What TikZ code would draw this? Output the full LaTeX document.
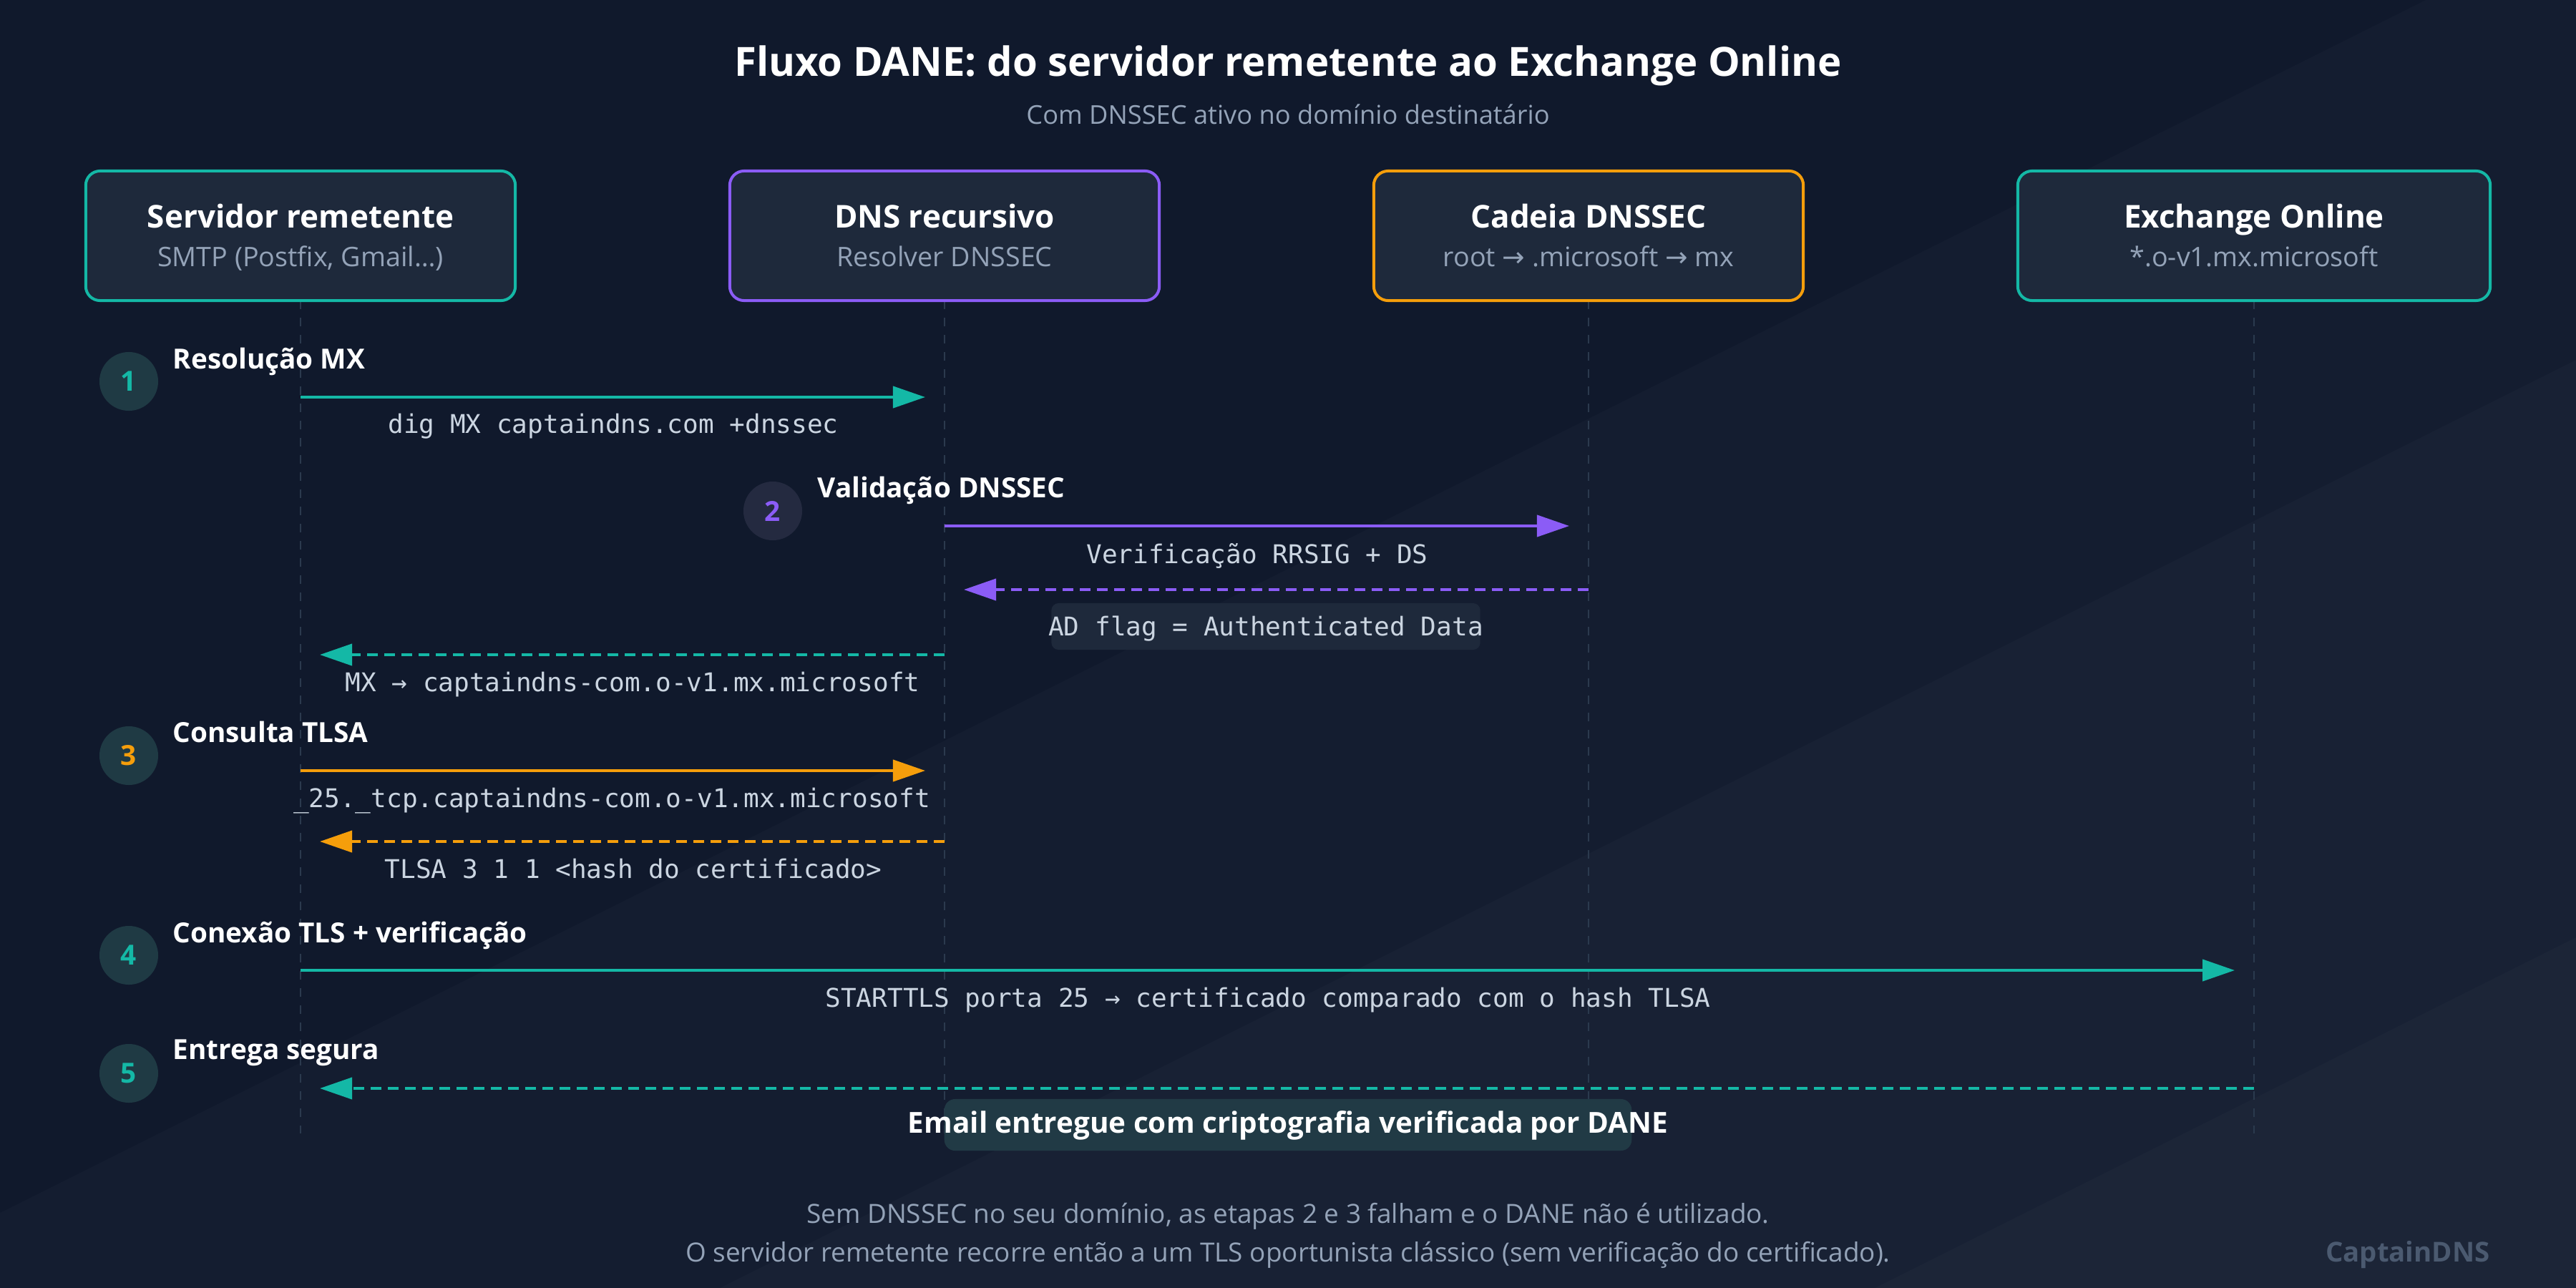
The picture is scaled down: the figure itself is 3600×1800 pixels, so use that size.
\documentclass[tikz,border=0pt]{standalone}
\usepackage{fontspec}
\usepackage{xcolor}
\setmainfont{Open Sans}
\setmonofont{DejaVu Sans Mono}
\newfontfamily\arrowfont{DejaVu Sans}
\usetikzlibrary{arrows.meta}

\definecolor{bgdark}{HTML}{10192C}
\definecolor{boxfill}{HTML}{1E293B}
\definecolor{cteal}{HTML}{14B8A6}
\definecolor{cpurple}{HTML}{8B5CF6}
\definecolor{corange}{HTML}{F59E0B}
\definecolor{subgray}{HTML}{94A3B8}
\definecolor{codegray}{HTML}{CBD5E1}
\definecolor{lifegray}{HTML}{2B3A4E}
\definecolor{numteal}{HTML}{1F3A44}
\definecolor{numpurple}{HTML}{242A40}
\definecolor{okfill}{HTML}{213A45}
\definecolor{brandgray}{HTML}{4B5A70}

\begin{document}
\begin{tikzpicture}[x=0.01cm, y=-0.01cm,
    actor/.style={draw, rounded corners=0.2cm, line width=0.04cm, fill=boxfill, minimum width=6cm, minimum height=1.81cm, inner sep=0},
    atitle/.style={anchor=base, inner sep=0, text=white, font=\fontsize{12.5pt}{15pt}\selectfont\bfseries},
    asub/.style={anchor=base, inner sep=0, text=subgray, font=\fontsize{10.7pt}{12pt}\selectfont},
    lifeline/.style={draw=lifegray, line width=0.025cm, dash pattern=on 0.12cm off 0.12cm},
    msg/.style={line width=0.04cm, -{Triangle[length=0.45cm, width=0.3cm]}, shorten >=0.27cm},
    reply/.style={msg, dash pattern=on 0.15cm off 0.09cm},
    stepnum/.style={circle, minimum size=0.82cm, inner sep=0, font=\fontsize{11pt}{13pt}\selectfont\bfseries},
    steplbl/.style={anchor=base west, inner sep=0, text=white, font=\fontsize{11pt}{13pt}\selectfont\bfseries},
    code/.style={anchor=base, inner sep=0, text=codegray, font=\ttfamily\fontsize{10.25pt}{12pt}\selectfont}]
    \useasboundingbox (0,0) rectangle (3600,1800);
    % Draw the background and its diagonal bands
    \fill[bgdark] (0,0) rectangle (3600,1800);
    \fill[white, opacity=0.02] (3390,0) -- (3600,0) -- (3600,1800) -- (0,1800) -- (0,1695) -- cycle;
    \fill[white, opacity=0.02] (3600,503) -- (3600,1800) -- (1006,1800) -- cycle;
    \fill[white, opacity=0.02] (3600,1310) -- (3600,1800) -- (2620,1800) -- cycle;

    % Title
    \node[anchor=base, text=white, font=\fontsize{16pt}{20pt}\selectfont\bfseries] (title) at (1800,107) {Fluxo DANE: do servidor remetente ao Exchange Online};
    \node[anchor=base, text=subgray, font=\fontsize{10.3pt}{12pt}\selectfont] (subtitle) at (1800,173) {Com DNSSEC ativo no domínio destinatário};

    % Lifeline ends and message rows
    \coordinate (bottom) at (0,1584);
    \coordinate (r1) at (0,555);
    \coordinate (r2) at (0,735);
    \coordinate (r2b) at (0,824);
    \coordinate (r2c) at (0,915);
    \coordinate (r3) at (0,1077);
    \coordinate (r3b) at (0,1176);
    \coordinate (r4) at (0,1356);
    \coordinate (r5) at (0,1521);

    % Draw the lifelines
    \foreach \x in {420,1320,2220,3150}
        \draw[lifeline] (\x,420) -- (\x,1584);

    % Draw participants as nodes
    \node[actor, draw=cteal] (srv) at (420,329.5) {};
    \node[actor, draw=cpurple] (dns) at (1320,329.5) {};
    \node[actor, draw=corange] (chain) at (2220,329.5) {};
    \node[actor, draw=cteal, minimum width=6.6cm] (exo) at (3150,329.5) {};

    \node[atitle] (srvT) at (420,318) {Servidor remetente};
    \node[asub] (srvS) at (420,372) {SMTP (Postfix, Gmail…)};
    \node[atitle] (dnsT) at (1320,318) {DNS recursivo};
    \node[asub] (dnsS) at (1320,372) {Resolver DNSSEC};
    \node[atitle] (chainT) at (2220,318) {Cadeia DNSSEC};
    \node[asub] (chainS) at (2220,372) {root {\arrowfont →} .microsoft {\arrowfont →} mx};
    \node[atitle] (exoT) at (3150,318) {Exchange Online};
    \node[asub] (exoS) at (3150,372) {*.o-v1.mx.microsoft};

    % Step numbers and step titles
    \node[stepnum, fill=numteal, text=cteal] (n1) at (180,533) {1};
    \node[steplbl] (s1) at (241,515) {Resolução MX};
    \node[stepnum, fill=numpurple, text=cpurple] (n2) at (1080,714) {2};
    \node[steplbl] (s2) at (1142,695) {Validação DNSSEC};
    \node[stepnum, fill=numteal, text=corange] (n3) at (180,1056) {3};
    \node[steplbl] (s3) at (241,1037) {Consulta TLSA};
    \node[stepnum, fill=numteal, text=cteal] (n4) at (180,1335) {4};
    \node[steplbl] (s4) at (241,1317) {Conexão TLS + verificação};
    \node[stepnum, fill=numteal, text=cteal] (n5) at (180,1500) {5};
    \node[steplbl] (s5) at (241,1480) {Entrega segura};

    % Draw the messages
    \draw[msg, cteal] (srv |- r1) -- (dns |- r1);
    \draw[msg, cpurple] (dns |- r2) -- (chain |- r2);
    \draw[reply, cpurple] (chain |- r2b) -- (dns |- r2b);
    \draw[reply, cteal] (dns |- r2c) -- (srv |- r2c);
    \draw[msg, corange] (srv |- r3) -- (dns |- r3);
    \draw[reply, corange] (dns |- r3b) -- (srv |- r3b);
    \draw[msg, cteal] (srv |- r4) -- (exo |- r4);
    \draw[reply, cteal] (exo |- r5) -- (srv |- r5);

    % Add message labels
    \node[code] (m1) at (857,605) {dig MX captaindns.com +dnssec};
    \node[code] (m2) at (1757,787) {Verificação RRSIG + DS};
    \node[fill=boxfill, rounded corners=0.1cm, minimum width=5.99cm, minimum height=0.65cm] (adbox) at (1769,875.5) {};
    \node[code] (m3) at (1769,888) {AD flag = Authenticated Data};
    \node[code] (m4) at (884,966) {MX → captaindns-com.o-v1.mx.microsoft};
    \node[code] (m5) at (855,1128) {\_25.\_tcp.captaindns-com.o-v1.mx.microsoft};
    \node[code] (m6) at (885,1227) {TLSA 3 1 1 <hash do certificado>};
    \node[code] (m7) at (1772,1407) {STARTTLS porta 25 → certificado comparado com o hash TLSA};
    \node[fill=okfill, rounded corners=0.15cm, minimum width=9.6cm, minimum height=0.72cm] (okbox) at (1800,1572) {};
    \node[anchor=base, inner sep=0, text=white, font=\fontsize{11.5pt}{13pt}\selectfont\bfseries] (m8) at (1800,1583) {Email entregue com criptografia verificada por DANE};

    % Footer
    \node[anchor=base, text=subgray, font=\fontsize{10.5pt}{12pt}\selectfont] (note1) at (1800,1709) {Sem DNSSEC no seu domínio, as etapas 2 e 3 falham e o DANE não é utilizado.};
    \node[anchor=base, text=subgray, font=\fontsize{10.5pt}{12pt}\selectfont] (note2) at (1800,1763) {O servidor remetente recorre então a um TLS oportunista clássico (sem verificação do certificado).};
    \node[anchor=base east, inner sep=0, text=brandgray, font=\fontsize{10.9pt}{12pt}\selectfont\bfseries] (brand) at (3480,1763) {CaptainDNS};
\end{tikzpicture}
\end{document}
